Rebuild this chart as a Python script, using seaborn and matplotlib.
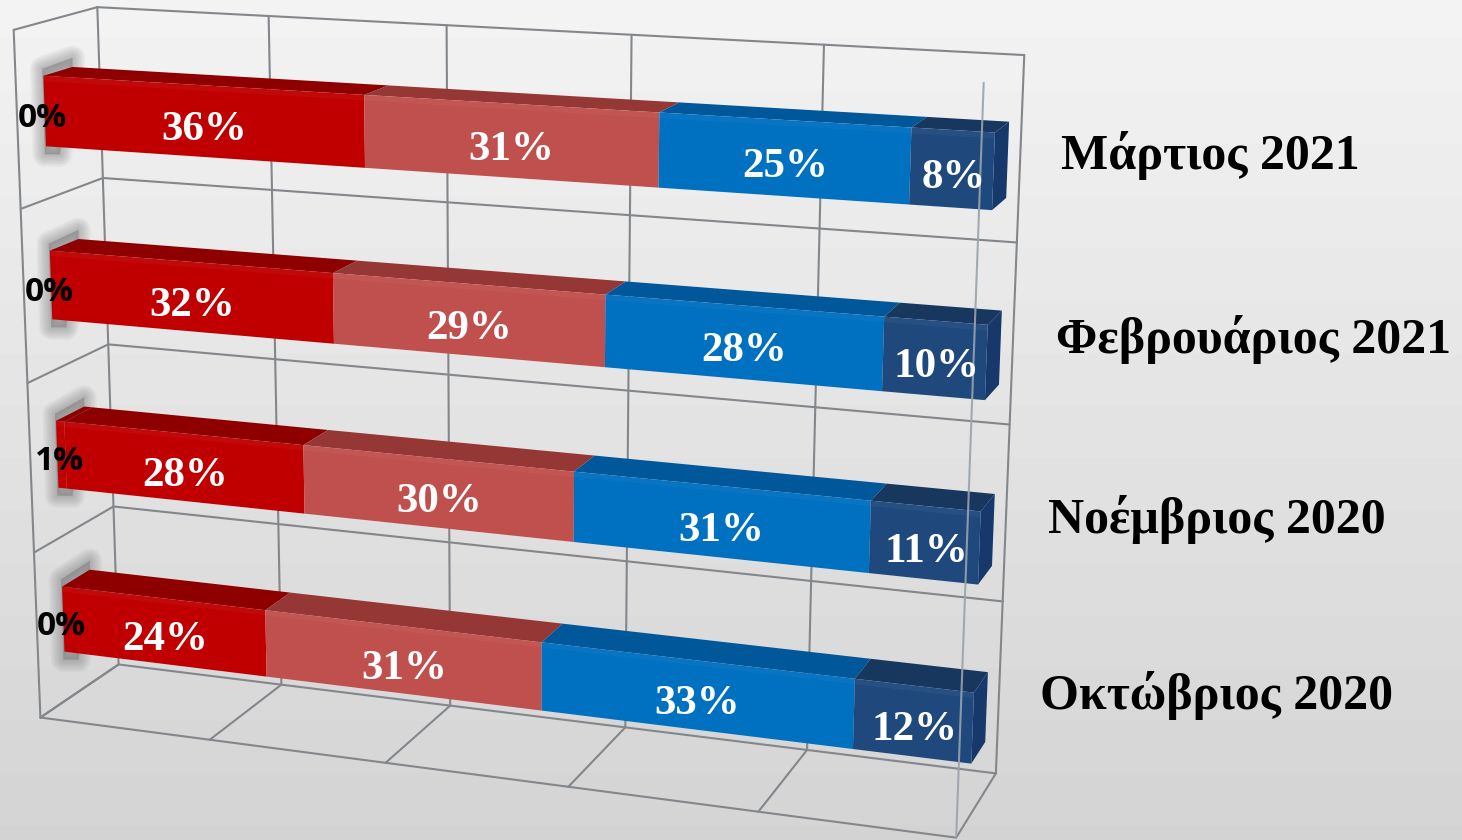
import numpy as np
import pandas as pd
import matplotlib
matplotlib.use("Agg")
import matplotlib.pyplot as plt
from matplotlib.transforms import Affine2D, Transform
from matplotlib.patches import Polygon
import seaborn as sns

months = ["Μάρτιος 2021", "Φεβρουάριος 2021", "Νοέμβριος 2020", "Οκτώβριος 2020"]
series_a = [0, 0, 1, 0]
series_b = [36, 32, 28, 24]
series_c = [31, 29, 30, 31]
series_d = [25, 28, 31, 33]
series_e = [8, 10, 11, 12]
series = [series_a, series_b, series_c, series_d, series_e]

front_cols = ["#C00000", "#C00000", "#C0504D", "#0070C0", "#1F497D"]
top_cols = ["#8E0000", "#8E0000", "#953735", "#00589A", "#17375E"]
cap_col = "#16386A"

# ---- picture geometry: corners of the 3-D box -> pixels
box_world = [(0, 0, 0), (1, 0, 0), (0, 1, 0), (1, 1, 0), (0, 0, 1), (1, 0, 1), (0, 1, 1), (1, 1, 1)]
box_pixel = [(13, 30), (985, 83), (41, 717), (955, 838), (98, 7), (1023, 55), (118, 665), (997, 773)]
A, b = [], []
for (X, Y, Z), (u, w) in zip(box_world, box_pixel):
    A.append([X, Y, Z, 1, 0, 0, 0, 0, -u * X, -u * Y, -u * Z])
    b.append(u)
    A.append([0, 0, 0, 0, X, Y, Z, 1, -w * X, -w * Y, -w * Z])
    b.append(w)
P = np.append(np.linalg.lstsq(np.array(A, float), np.array(b, float), rcond=None)[0], 1).reshape(3, 4)


def project(v, y, z):
    h = P @ np.array([v / 100, (y + 0.5) / 4, z, 1.0])
    return h[0] / h[2], h[1] / h[2]


PX = Affine2D().scale(1, -1).translate(0, 840)


class Plane(Transform):
    input_dims = 2
    output_dims = 2
    is_separable = False

    def __init__(self, z):
        super().__init__()
        self.z = z

    def transform_non_affine(self, values):
        values = np.asarray(values, float)
        return np.array([project(a, c, self.z) for a, c in values])


Z0, Z1 = 0.32, 0.67
BAR = 0.40
FRONT = Plane(Z0) + PX

sns.set_theme(style="white")
plt.rcParams["font.family"] = ["Liberation Serif", "DejaVu Serif"]

fig = plt.figure(figsize=(14.62, 8.4), dpi=100)
bg = fig.add_axes([0, 0, 1, 1], zorder=0)
grad = np.linspace(0.955, 0.83, 840)[:, None] * np.ones((840, 1462))
bg.imshow(grad, cmap="gray", vmin=0, vmax=1, aspect="auto")
bg.axis("off")

ax = fig.add_axes([0, 0, 1, 1], zorder=1)
ax.patch.set_alpha(0)


def pline(pts, color="#83878b", lw=1.5, zorder=1, alpha=1.0):
    xy = np.array([project(*p) for p in pts])
    ax.plot(xy[:, 0], xy[:, 1], color=color, lw=lw, zorder=zorder, alpha=alpha,
            transform=PX, clip_on=False, solid_capstyle="round")


def pfill(pts, color, zorder, **kw):
    ax.add_patch(Polygon(np.array([project(*p) for p in pts]), closed=True, facecolor=color,
                         edgecolor="none", transform=PX, zorder=zorder, clip_on=False, **kw))


# walls
grid_v = [0, 20, 40, 60, 80, 100]
grid_y = [-0.5, 0.5, 1.5, 2.5, 3.5]
for v in grid_v:
    pline([(v, -0.5, 1), (v, 3.5, 1)])
    pline([(v, 3.5, 0), (v, 3.5, 1)])
for y in grid_y:
    pline([(0, y, 1), (100, y, 1)])
    pline([(0, y, 0), (0, y, 1)])
pline([(0, -0.5, 0), (0, 3.5, 0)])
pline([(0, 3.5, 0), (100, 3.5, 0)])

# stacked bars drawn by seaborn, then placed on the picture's front plane
frame = pd.DataFrame(series, columns=months).T
totals = frame.sum(axis=1).to_numpy()
lefts = np.zeros(len(months))
labels = []
for s, vals in enumerate(series):
    norm = np.array(vals) / totals * 100
    start = len(ax.patches)
    sns.barplot(x=norm, y=months, left=lefts, orient="y", color=front_cols[s], saturation=1,
                width=BAR, errorbar=None, linewidth=0, ax=ax, zorder=3)
    new_patches = list(ax.patches[start:])
    for r, patch in enumerate(new_patches):
        patch.set_transform(FRONT)
        patch.set_clip_on(False)
        v0, v1 = patch.get_x(), patch.get_x() + patch.get_width()
        y0, y1 = patch.get_y(), patch.get_y() + patch.get_height()
        pfill([(v0, y0, Z0), (v1, y0, Z0), (v1, y0, Z1), (v0, y0, Z1)], top_cols[s], 2.8)
        pfill([(v0, y0, Z0), (v1, y0, Z0), (v1, y0 + 0.03, Z0), (v0, y0 + 0.03, Z0)], "white", 3.2, alpha=0.04)
        if s == len(series) - 1:
            pfill([(v1, y0, Z0), (v1, y1, Z0), (v1, y1, Z1), (v1, y0, Z1)], cap_col, 2.8)
        if s == 0:
            a = np.array(project(v0, y0, Z0))
            c = np.array(project(v0, y0, Z1))
            d = np.array(project(v0, y1, Z0))
            shadow = np.array([a + (-1, -7), c + (0, -9), c, d + (14, 8), d + (-1, 8)])
            for w in range(2, 20, 2):
                ax.add_patch(Polygon(shadow, closed=True, facecolor="#707070", edgecolor="#707070", alpha=0.055,
                                     lw=w, joinstyle="round", transform=PX, zorder=2, clip_on=False))
        labels.append((s, r, vals[r], v0, v1))
    lefts = lefts + norm

ax.set_xlim(0, 100)
ax.set_ylim(3.5, -0.5)
ax.axis("off")

# front line in front of the bars
pline([(100, -0.5, 0), (100, 3.5, 0)], color="#9aa3ab", zorder=4, alpha=0.9)

for s, r, val, v0, v1 in labels:
    px, py = project((v0 + v1) / 2, r, Z0)
    if s == 0:
        ax.text(px - 2, py + 7, f"{val}%", transform=PX, ha="center", va="center", fontsize=24,
                fontweight="bold", color="black", family=["Open Sans", "DejaVu Sans"], zorder=5)
    else:
        ax.text(px + 2, py + 9, f"{val}%", transform=PX, ha="center", va="center", fontsize=31,
                fontweight="bold", color="white", zorder=5)

name_x = [1061, 1056, 1048, 1040]
name_y = [155, 340, 520, 695]
for name, nx, ny in zip(months, name_x, name_y):
    ax.text(nx, ny, name, transform=PX, ha="left", va="center", fontsize=36, fontweight="bold",
            color="black", zorder=5)

fig.savefig("out.png", dpi=100)
